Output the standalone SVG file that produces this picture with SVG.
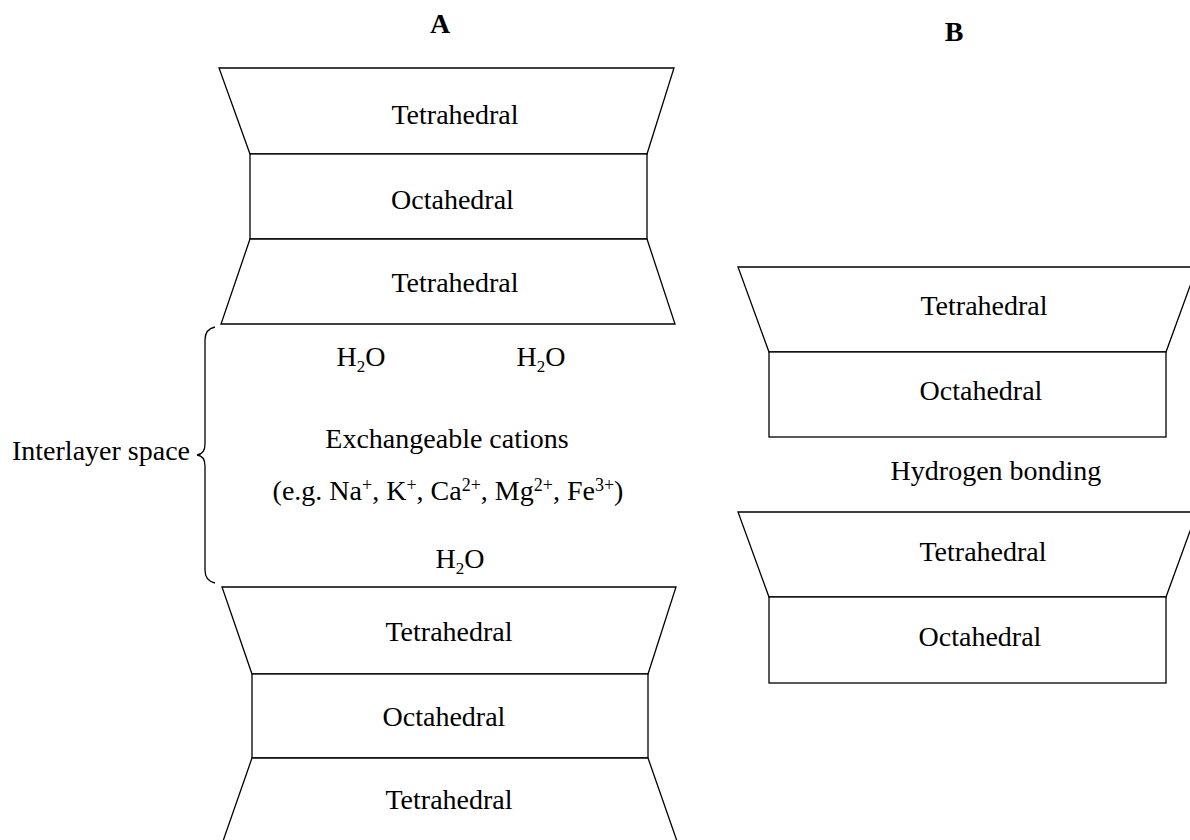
<svg xmlns="http://www.w3.org/2000/svg" width="1190" height="840" viewBox="0 0 1190 840">
<style>
.sh{fill:#fff;stroke:#000;stroke-width:1.3;stroke-linejoin:miter}
.t{font-family:"Liberation Serif","Times New Roman",serif;font-size:28px;fill:#000;text-anchor:middle}
.b{font-weight:bold}
.s{font-size:17px}
.u{font-size:18px}
.br{fill:none;stroke:#000;stroke-width:1.3}
</style>
<rect width="1190" height="840" fill="#fff"/>
<text class="t b" x="440" y="33">A</text>
<text class="t b" x="954" y="41">B</text>
<g id="A-top-tetra1">
<polygon class="sh" points="219,68 674,68 647,154 250,154"/>
<text class="t" x="455" y="124">Tetrahedral</text>
</g>
<g id="A-top-octa">
<rect class="sh" x="250" y="154" width="397" height="85"/>
<text class="t" x="452.5" y="209">Octahedral</text>
</g>
<g id="A-top-tetra2">
<polygon class="sh" points="250,239 647,239 675,324 221,324"/>
<text class="t" x="455" y="292">Tetrahedral</text>
</g>
<g id="interlayer">
<text class="t" x="361" y="366">H<tspan class="s" dy="6">2</tspan><tspan dy="-6">O</tspan></text>
<text class="t" x="541" y="366">H<tspan class="s" dy="6">2</tspan><tspan dy="-6">O</tspan></text>
<text class="t" x="447" y="448">Exchangeable cations</text>
<text class="t" x="448" y="500">(e.g. Na<tspan class="u" dy="-9">+</tspan><tspan dy="9">, K</tspan><tspan class="u" dy="-9">+</tspan><tspan dy="9">, Ca</tspan><tspan class="u" dy="-9">2+</tspan><tspan dy="9">, Mg</tspan><tspan class="u" dy="-9">2+</tspan><tspan dy="9">, Fe</tspan><tspan class="u" dy="-9">3+</tspan><tspan dy="9">)</tspan></text>
<text class="t" x="460" y="568">H<tspan class="s" dy="6">2</tspan><tspan dy="-6">O</tspan></text>
</g>
<g id="brace-label">
<text class="t" x="101" y="460">Interlayer space</text>
<path class="br" d="M215,327 Q205,329 205,340 L205,444 Q205,454 197,455 Q205,456 205,466 L205,570 Q205,581 215,583"/>
</g>
<g id="A-bot-tetra1">
<polygon class="sh" points="222,587 676,587 648,674 252,674"/>
<text class="t" x="449" y="641">Tetrahedral</text>
</g>
<g id="A-bot-octa">
<rect class="sh" x="252" y="674" width="396" height="84"/>
<text class="t" x="444" y="726">Octahedral</text>
</g>
<g id="A-bot-tetra2">
<polygon class="sh" points="252,758 648,758 678,844 222,844"/>
<text class="t" x="449" y="809">Tetrahedral</text>
</g>
<g id="B-tetra1">
<polygon class="sh" points="738,267 1197,267 1166,352 769,352"/>
<text class="t" x="984" y="315">Tetrahedral</text>
</g>
<g id="B-octa1">
<rect class="sh" x="769" y="352" width="397" height="85"/>
<text class="t" x="981" y="400">Octahedral</text>
</g>
<text class="t" x="996" y="480">Hydrogen bonding</text>
<g id="B-tetra2">
<polygon class="sh" points="738,512 1197,512 1166,597 769,597"/>
<text class="t" x="983" y="561">Tetrahedral</text>
</g>
<g id="B-octa2">
<rect class="sh" x="769" y="597" width="397" height="86"/>
<text class="t" x="980" y="646">Octahedral</text>
</g>
<g id="connectors"/>
</svg>
